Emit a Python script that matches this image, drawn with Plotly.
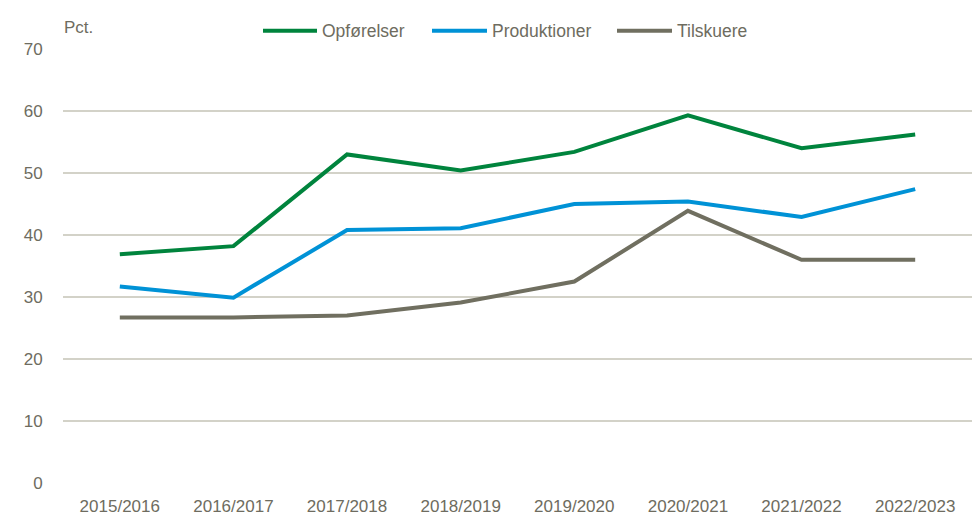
import plotly.graph_objects as go

seasons = ["2015/2016", "2016/2017", "2017/2018", "2018/2019", "2019/2020", "2020/2021", "2021/2022", "2022/2023"]
opfoerelser = [36.9, 38.2, 53.0, 50.4, 53.4, 59.3, 54.0, 56.2]
produktioner = [31.7, 29.9, 40.8, 41.1, 45.0, 45.4, 42.9, 47.4]
tilskuere = [26.7, 26.7, 27.0, 29.1, 32.5, 43.9, 36.0, 36.0]

series = [
    ("Opførelser", opfoerelser, "#00843D"),
    ("Produktioner", produktioner, "#0092D6"),
    ("Tilskuere", tilskuere, "#706F60"),
]

text_color = "#6E6C60"
FONT = "Liberation Sans, Arial, sans-serif"

W, H = 980, 517
ML, MR, MT, MB = 63, 8, 49, 34
PW, PH = W - ML - MR, H - MT - MB

def px_x(px):
    return (px - ML) / PW

def px_y(py):
    return (H - MB - py) / PH

fig = go.Figure()
for name, vals, col in series:
    fig.add_trace(go.Scatter(x=seasons, y=vals, name=name, mode="lines",
                             line=dict(color=col, width=4)))

# manual legend (layout decoration)
legend_pos = [(263, 317, 320), (432, 487, 490), (617, 672, 675)]
shapes = []
annotations = []
ly = px_y(30.7)
for (name, _, col), (x0, x1, tx) in zip(series, legend_pos):
    shapes.append(dict(type="line", xref="paper", yref="paper",
                       x0=px_x(x0), x1=px_x(x1), y0=ly, y1=ly,
                       line=dict(color=col, width=4)))
    annotations.append(dict(text=name, xref="paper", yref="paper", x=px_x(tx), y=ly,
                            xanchor="left", yanchor="middle", showarrow=False,
                            font=dict(size=17.5, color=text_color)))

annotations.append(dict(text="Pct.", xref="paper", yref="paper", x=px_x(62), y=px_y(27),
                        xanchor="left", yanchor="middle", showarrow=False,
                        font=dict(size=17, color=text_color)))

fig.update_layout(
    width=W, height=H,
    margin=dict(l=ML, r=MR, t=MT, b=MB, autoexpand=False),
    paper_bgcolor="white", plot_bgcolor="white",
    font=dict(family=FONT, size=17, color=text_color),
    showlegend=False,
    xaxis=dict(type="category", range=[-0.5, 7.5], showgrid=False, zeroline=False,
               showline=False, ticks="outside", ticklen=8, tickcolor="rgba(0,0,0,0)",
               automargin=False,
               tickfont=dict(size=17, color=text_color)),
    yaxis=dict(range=[0, 70], dtick=10, showgrid=True, gridcolor="#D3D2C8", gridwidth=1.5,
               zeroline=False, showline=False, ticks="outside", ticklen=16,
               tickcolor="rgba(0,0,0,0)", automargin=False,
               tickfont=dict(size=17, color=text_color)),
    shapes=shapes,
    annotations=annotations,
)

fig.write_html("out.html")
